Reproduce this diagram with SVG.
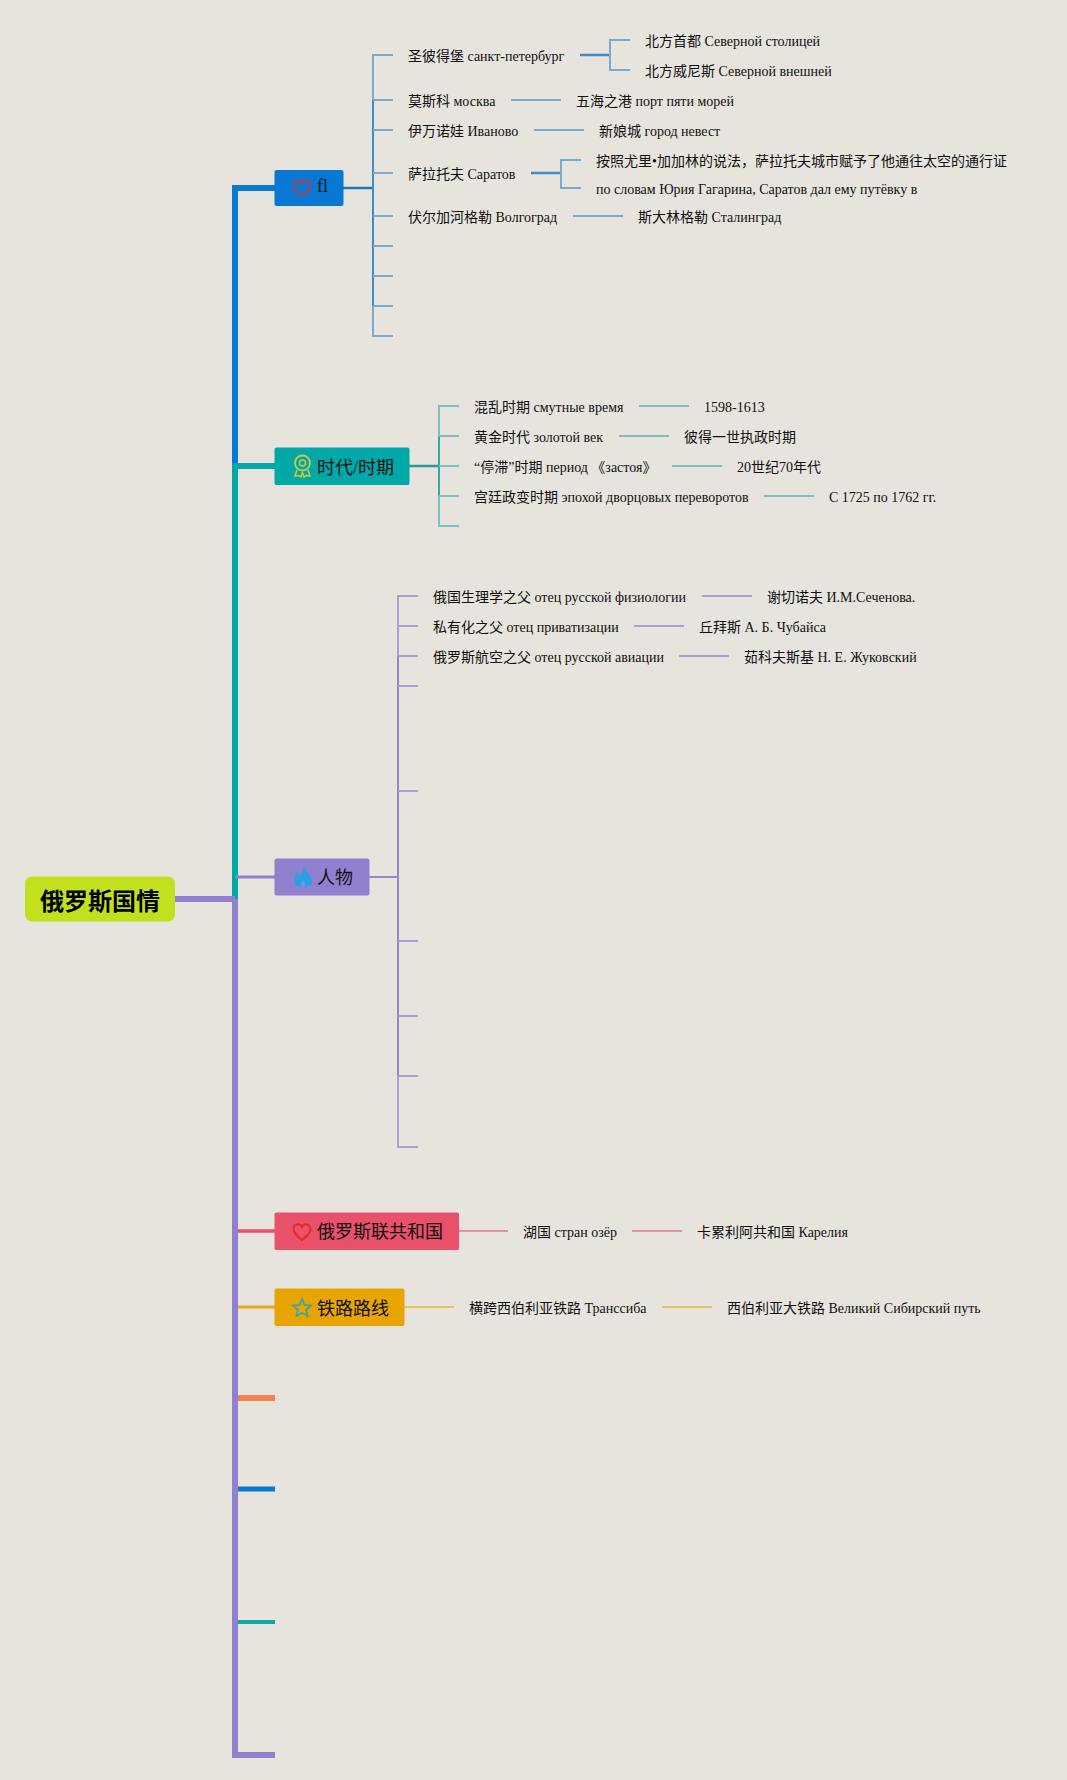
<svg xmlns="http://www.w3.org/2000/svg" width="1067" height="1780" viewBox="0 0 1067 1780">
<style>
text{font-family:"Liberation Serif","Noto Sans CJK SC",serif;font-size:14px;fill:#111}
.t{font-size:18px}
.r{font-size:24px;font-weight:700;font-family:"Liberation Sans","Noto Sans CJK SC",sans-serif;fill:#000}
path{fill:none}
.b1{stroke:#3f8ccb;stroke-width:2}.b2{stroke:#78abd2;stroke-width:2}.b3{stroke:#3f8cc9;stroke-width:2.5}
.g1{stroke:#3aa6a6;stroke-width:2}.g2{stroke:#7dbfbf;stroke-width:2}
.p1{stroke:#9686d0;stroke-width:2}.p2{stroke:#ab9fd6;stroke-width:2}
</style>
<rect width="1067" height="1780" fill="#e6e4dd"/>
<g id="connectors" fill="none">
<path d="M235 466V188H275" stroke="#0878d4" stroke-width="6"/>
<path d="M235 899V466H275" stroke="#00a8a8" stroke-width="6"/>
<path d="M175 899H235" stroke="#917fd0" stroke-width="6"/>
<path d="M235 877H275" stroke="#917fd0" stroke-width="3"/>
<path d="M235 899V1755H275" stroke="#917fd0" stroke-width="6"/>
<path d="M238 1231H275" stroke="#e9506a" stroke-width="3.5"/>
<path d="M238 1307H275" stroke="#e8a820" stroke-width="3"/>
<path d="M238 1398H275" stroke="#f58050" stroke-width="6"/>
<path d="M238 1489H275" stroke="#0878d4" stroke-width="5"/>
<path d="M238 1622H275" stroke="#12a6a6" stroke-width="4"/>
<path stroke="#1b78c0" stroke-width="2.5" d="M343 188H373"/>
<path class="b1" d="M373 100V306"/>
<path class="b2" d="M393 55H373V100M373 306V336H393M373 100H393M373 130H393M373 173H393M373 216H393M373 246H393M373 276H393M373 306H393"/>
<path class="b3" d="M580 55H610"/><path class="b2" d="M630 40H610V70H630"/>
<path class="b2" d="M511 100H561M534 130H584M573 216H623"/>
<path class="b3" d="M531 173H561"/><path class="b2" d="M581 160H561V188H581"/>
<path stroke="#2a9c9c" stroke-width="2.5" d="M409 466H439"/>
<path class="g1" d="M439 436V496"/>
<path class="g2" d="M459 406H439V436M439 496V526H459M439 436H459M439 466H459M439 496H459M639 406H689M619 436H669M672 466H722M764 496H814"/>
<path class="p1" d="M369 877H398M398 656V1076"/>
<path class="p2" d="M418 596H398V656M398 1076V1147H418M398 626H418M398 656H418M398 686H418M398 791H418M398 941H418M398 1016H418M398 1076H418M702 596H752M634 626H684M679 656H729"/>
<path stroke="#e4919e" stroke-width="2" d="M459 1231H508M632 1231H682"/>
<path stroke="#e8c06a" stroke-width="2" d="M404 1307H454M662 1307H712"/>
</g>
<g id="root"><rect x="25" y="876.5" width="150" height="45" rx="7" fill="#c2e01e"/><text class="r" x="40" y="910">俄罗斯国情</text></g>
<g id="topic-fl"><rect x="274.5" y="170" width="69" height="36" rx="2" fill="#0878d4"/>
<path d="M302 196C297 192 293.500 189 293.500 185C293.500 180 300 178.500 302 183C304 178.500 310.500 180 310.500 185C310.500 189 307 192 302 196Z" stroke="#8a4a68" stroke-width="2.400"/><text class="t" x="317" y="192">fl</text></g>
<g id="topic-era"><rect x="274.5" y="447.500" width="135" height="37.500" rx="2" fill="#00a8a8"/>
<circle cx="302.500" cy="463" r="7.500" stroke="#cfc93c" stroke-width="1.800" fill="none"/><circle cx="302.500" cy="463" r="3" stroke="#cfc93c" stroke-width="1.500" fill="none"/><path d="M297 470L295 476L298.500 475.500L301 477L302.500 472.500L304 477L306.500 475.500L310 476L308 470" stroke="#cfc93c" stroke-width="1.500"/>
<text class="t" x="317" y="474">时代/时期</text></g>
<g id="topic-people"><rect x="274.5" y="858.500" width="95" height="37" rx="2" fill="#917fd0"/>
<path d="M304 866C304 871 312 875 312 881C312 885 308 887 303 887C298 887 294 885 294 880C294 877 296 875 297 872C298 874 299 875 300 875.500C302 873 303.500 870 304 866Z" style="fill:#2a9fe6"/><path d="M303 880C302.200 882 300.500 883 300.500 885C300.500 886.500 302 887 303 887C304 887 305.500 886.500 305.500 885C305.500 883 303.800 882 303 880Z" style="fill:#5f9fe0"/><text class="t" x="317" y="884">人物</text></g>
<g id="topic-russia"><rect x="274.5" y="1212.500" width="184.500" height="37.500" rx="2" fill="#e9506a"/>
<path d="M302 1240C297 1236 293.500 1233 293.500 1229C293.500 1224 300 1222.500 302 1227C304 1222.500 310.500 1224 310.500 1229C310.500 1233 307 1236 302 1240Z" stroke="#e22b2b" stroke-width="2"/><text class="t" x="317" y="1238">俄罗斯联共和国</text></g>
<g id="topic-rail"><rect x="274.5" y="1288.500" width="130" height="37.500" rx="2" fill="#e8a400"/>
<path d="M302 1299L304.500 1305L311 1305.500L306 1310L307.500 1316L302 1312.800L296.500 1316L298 1310L293 1305.500L299.500 1305Z" stroke="#3fa6a0" stroke-width="1.800"/><text class="t" x="317" y="1315">铁路路线</text></g>
<g id="fl-items">
<text x="408" y="61">圣彼得堡 санкт-петербург</text>
<text x="645" y="46">北方首都 Северной столицей</text>
<text x="645" y="76">北方威尼斯 Северной внешней</text>
<text x="408" y="106">莫斯科 москва</text>
<text x="576" y="106">五海之港 порт пяти морей</text>
<text x="408" y="136">伊万诺娃 Иваново</text>
<text x="599" y="136">新娘城 город невест</text>
<text x="408" y="179">萨拉托夫 Саратов</text>
<text x="596" y="166">按照尤里•加加林的说法，萨拉托夫城市赋予了他通往太空的通行证</text>
<text x="596" y="194">по словам Юрия Гагарина, Саратов дал ему путёвку в</text>
<text x="408" y="222">伏尔加河格勒 Волгоград</text>
<text x="638" y="222">斯大林格勒 Сталинград</text>
</g>
<g id="era-items">
<text x="474" y="412">混乱时期 смутные время</text>
<text x="704" y="412">1598-1613</text>
<text x="474" y="442">黄金时代 золотой век</text>
<text x="684" y="442">彼得一世执政时期</text>
<text x="474" y="472">“停滞”时期 период 《застоя》</text>
<text x="737" y="472">20世纪70年代</text>
<text x="474" y="502">宫廷政变时期 эпохой дворцовых переворотов</text>
<text x="829" y="502">С 1725 по 1762 гг.</text>
</g>
<g id="people-items">
<text x="433" y="602">俄国生理学之父 отец русской физиологии</text>
<text x="767" y="602">谢切诺夫 И.М.Сеченова.</text>
<text x="433" y="632">私有化之父 отец приватизации</text>
<text x="699" y="632">丘拜斯 А. Б. Чубайса</text>
<text x="433" y="662">俄罗斯航空之父 отец русской авиации</text>
<text x="744" y="662">茹科夫斯基 Н. Е. Жуковский</text>
</g>
<g id="russia-items">
<text x="523" y="1237">湖国 стран озёр</text>
<text x="697" y="1237">卡累利阿共和国 Карелия</text>
</g>
<g id="rail-items">
<text x="469" y="1313">横跨西伯利亚铁路 Транссиба</text>
<text x="727" y="1313">西伯利亚大铁路 Великий Сибирский путь</text>
</g>
</svg>
